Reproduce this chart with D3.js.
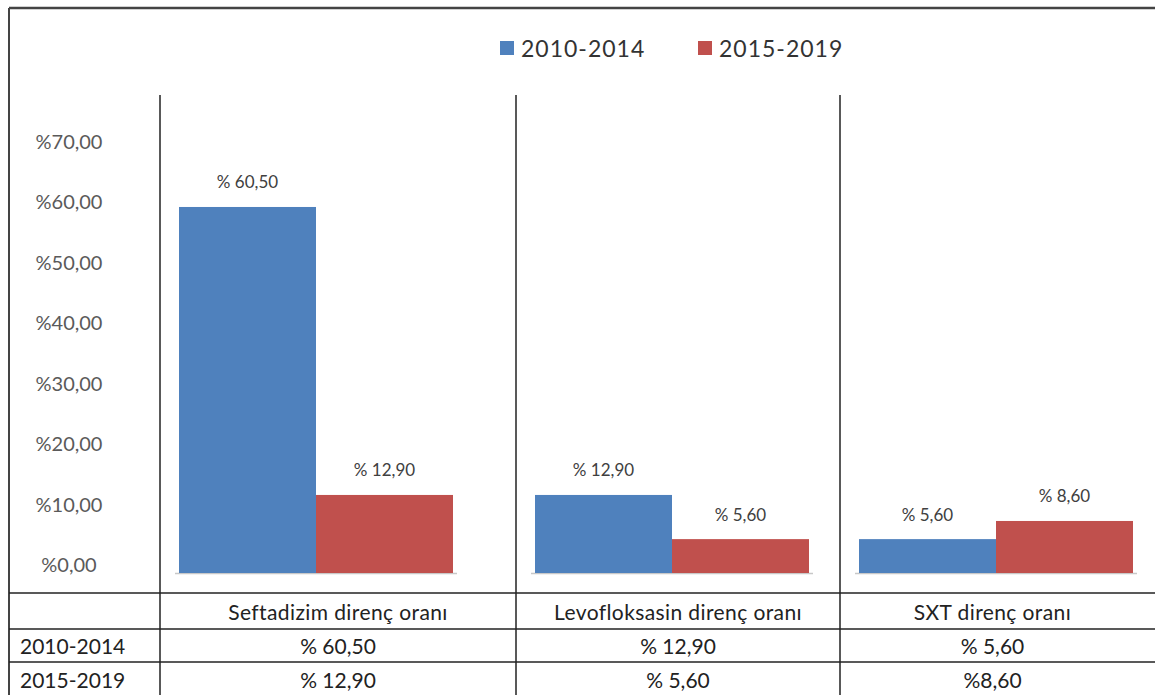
<!DOCTYPE html>
<html>
<head>
<meta charset="utf-8">
<script src="https://cdn.jsdelivr.net/npm/d3@7"></script>
<style>
  html, body { margin: 0; padding: 0; background: #fff; }
  svg { display: block; font-family: Lato, "Open Sans", sans-serif; }
</style>
</head>
<body>
<div id="chart"></div>
<script>
// Resistance rates, two periods, three antibiotics

const categories = ["Seftadizim direnç oranı", "Levofloksasin direnç oranı", "SXT direnç oranı"];
const seriesNames = ["2010-2014", "2015-2019"];
const values2010 = [60.5, 12.9, 5.6];
const values2015 = [12.9, 5.6, 8.6];
const barLabels2010 = ["% 60,50", "% 12,90", "% 5,60"];
const barLabels2015 = ["% 12,90", "% 5,60", "% 8,60"];
const tableLabels2010 = ["% 60,50", "% 12,90", "% 5,60"];
const tableLabels2015 = ["% 12,90", "% 5,60", "%8,60"];
const yTicks = [0, 10, 20, 30, 40, 50, 60, 70];

const W = 1155, H = 695;
const colors = { "2010-2014": "#4F81BD", "2015-2019": "#C0504D" };

// layout: each category sits in its own table column
const colEdges = [160, 516, 840, W + 5];
const plotTop = 95, baseY = 573;
const tableRows = [593, 629, 662, H + 5];

const svg = d3.select("#chart").append("svg")
    .attr("width", W)
    .attr("height", H);

const y = d3.scaleLinear().domain([0, 70]).range([baseY, 149.5]);

const locale = d3.formatLocale({ decimal: ",", thousands: ".", grouping: [3], currency: ["", ""] });
const fmt = locale.format(".2f");

// ─── y labels (no axis line, Excel style) ───
svg.append("g")
    .selectAll("text")
    .data(yTicks)
    .join("text")
    .attr("x", 69)
    .attr("y", d => y(d) - 9)
    .attr("text-anchor", "middle")
    .attr("dominant-baseline", "central")
    .attr("fill", "#5a5a5a")
    .style("font-size", "20px")
    .text(d => "%" + fmt(d));

// ─── bars per column ───
const rows = categories.map((c, i) => ({
    cat: c,
    i: i,
    vals: [
        { s: seriesNames[0], v: values2010[i], label: barLabels2010[i] },
        { s: seriesNames[1], v: values2015[i], label: barLabels2015[i] }
    ]
}));

rows.forEach(r => {
    const left = colEdges[r.i] + 19;
    const xs = d3.scaleBand().domain(seriesNames).range([left, left + 274]).padding(0);

    const g = svg.append("g");

    g.append("line")
        .attr("x1", left - 4).attr("x2", left + 278)
        .attr("y1", baseY + 0.5).attr("y2", baseY + 0.5)
        .attr("stroke", "#c8c8c8")
        .attr("stroke-width", 1.5);

    g.selectAll("rect")
        .data(r.vals)
        .join("rect")
        .attr("x", d => xs(d.s))
        .attr("width", xs.bandwidth())
        .attr("y", d => y(d.v))
        .attr("height", d => baseY - y(d.v))
        .attr("fill", d => colors[d.s]);

    g.selectAll("text")
        .data(r.vals)
        .join("text")
        .attr("x", d => xs(d.s) + xs.bandwidth() / 2)
        .attr("y", d => y(d.v) - 25)
        .attr("text-anchor", "middle")
        .attr("dominant-baseline", "central")
        .attr("fill", "#404040")
        .style("font-size", "17px")
        .text(d => d.label);
});

// ─── legend ───
const legendX = [500, 698];
const legend = svg.append("g")
    .selectAll("g")
    .data(seriesNames)
    .join("g")
    .attr("transform", (d, i) => `translate(${legendX[i]},41)`);

legend.append("rect")
    .attr("width", 14).attr("height", 14)
    .attr("fill", d => colors[d]);

legend.append("text")
    .attr("x", 21)
    .attr("y", 7)
    .attr("dominant-baseline", "central")
    .attr("fill", "#333")
    .style("font-size", "23px")
    .style("letter-spacing", "1px")
    .text(d => d);

// ─── grid lines: outer frame, column dividers, table rows ───
const lines = svg.append("g").attr("stroke", "#222").attr("fill", "none");

lines.append("line")
    .attr("x1", 9).attr("x2", W + 5).attr("y1", 8).attr("y2", 8)
    .attr("stroke", "#444").attr("stroke-width", 2.5);
lines.append("line")
    .attr("x1", 9).attr("x2", 9).attr("y1", 8).attr("y2", H + 5)
    .attr("stroke", "#444").attr("stroke-width", 2);

colEdges.slice(0, 3).forEach(x => {
    lines.append("line")
        .attr("x1", x).attr("x2", x)
        .attr("y1", plotTop).attr("y2", H + 5)
        .attr("stroke-width", 1.5);
});

tableRows.slice(0, 3).forEach(yy => {
    lines.append("line")
        .attr("x1", 9).attr("x2", W + 5)
        .attr("y1", yy).attr("y2", yy)
        .attr("stroke-width", 1.5);
});

// ─── data table ───
const table = svg.append("g")
    .attr("fill", "#222")
    .style("font-size", "21px");

const colCenter = i => (colEdges[i] + Math.min(colEdges[i + 1], W)) / 2 - (i === 2 ? 5 : 0);
const rowMid = j => (tableRows[j] + tableRows[j + 1]) / 2;

table.selectAll(".hdr")
    .data(categories)
    .join("text")
    .attr("class", "hdr")
    .attr("x", (d, i) => colCenter(i))
    .attr("y", rowMid(0))
    .attr("text-anchor", "middle")
    .attr("dominant-baseline", "central")
    .style("letter-spacing", "0.4px")
    .text(d => d);

[tableLabels2010, tableLabels2015].forEach((labels, j) => {
    table.append("text")
        .attr("x", 20)
        .attr("y", rowMid(j + 1) - (j === 1 ? 2 : 0))
        .attr("dominant-baseline", "central")
        .text(seriesNames[j]);

    table.selectAll(".v" + j)
        .data(labels)
        .join("text")
        .attr("class", "v" + j)
        .attr("x", (d, i) => colCenter(i))
        .attr("y", rowMid(j + 1) - (j === 1 ? 2 : 0))
        .attr("text-anchor", "middle")
        .attr("dominant-baseline", "central")
        .text(d => d);
});
</script>
</body>
</html>
